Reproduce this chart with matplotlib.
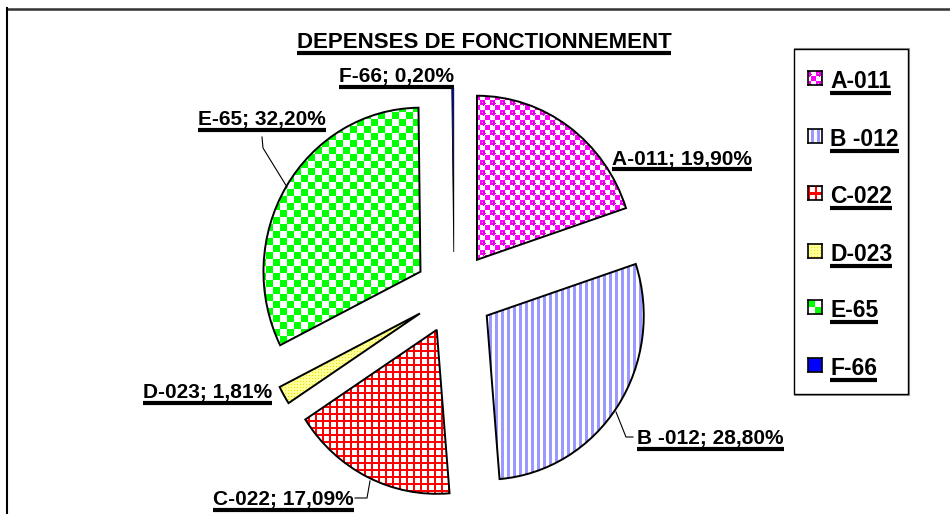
import numpy as np
import matplotlib
matplotlib.use("Agg")
import matplotlib.pyplot as plt
from matplotlib.lines import Line2D
from matplotlib.patches import Rectangle

W, H = 950, 514

title = "DEPENSES DE FONCTIONNEMENT"
categories = ["A-011", "B -012", "C-022", "D-023", "E-65", "F-66"]
values = [19.90, 28.80, 17.09, 1.81, 32.20, 0.20]
pct_labels = ["19,90%", "28,80%", "17,09%", "1,81%", "32,20%", "0,20%"]

# pie centre / radii in pixels (picture is slightly squeezed horizontally)
cx, cy, rx, ry = 454, 293, 157, 164

plt.rcParams['font.family'] = ['Liberation Sans', 'DejaVu Sans']

fig = plt.figure(figsize=(9.5, 5.14), dpi=100)
ax = fig.add_axes([0, 0, 1, 1])


def px(x, y):
    return x / W, 1 - y / H


# texture images in pixel space
yy, xx = np.mgrid[0:H, 0:W]


def rgb(c):
    return np.array(matplotlib.colors.to_rgb(c))


def texture(kind):
    img = np.ones((H, W, 3))
    if kind == "A":
        chk = ((xx // 5) + (yy // 5)) % 2 == 0
        img[:] = rgb("#FF00FF")
        img[~chk] = rgb("#FFFFFF")
        dot = ((xx % 10) - 3) ** 2 + ((yy % 10) - 3) ** 2 < 5
        img[dot] = rgb("#E000E0")
        hl = ((xx % 10) == 2) & ((yy % 10) == 2)
        img[hl] = rgb("#FFB0FF")
    elif kind == "B":
        img[:] = rgb("#9999FF")
        img[(xx % 6) < 3] = rgb("#FFFFFF")
    elif kind == "C":
        img[:] = rgb("#FFFFFF")
        img[((xx % 7) < 2) | ((yy % 7) < 2)] = rgb("#FF0000")
    elif kind == "D":
        img[:] = rgb("#FFFF99")
        img[((xx % 3) == 0) & ((yy % 3) == 0)] = rgb("#E6E600")
    elif kind == "E":
        chk = ((xx // 7) + (yy // 7)) % 2 == 0
        img[:] = rgb("#FFFFFF")
        img[chk] = rgb("#00FF00")
    else:
        img[:] = rgb("#0000FF")
    return img


wedges, _ = ax.pie(values, explode=[0.25] * len(values), startangle=90,
                   counterclock=False, radius=1, center=(0, 0),
                   wedgeprops=dict(facecolor='none', edgecolor='black', linewidth=1.4))
xlim = (-cx / rx, (W - cx) / rx)
ylim = (-(H - cy) / ry, cy / ry)
ax.set_aspect('auto')
ax.set_position([0, 0, 1, 1])
ax.axis('off')
wedges[-1].set_linewidth(0.6)

extent = (xlim[0], xlim[1], ylim[0], ylim[1])
for w, k in zip(wedges, "ABCDEF"):
    im = ax.imshow(texture(k), extent=extent, origin='upper',
                   interpolation='nearest', zorder=0.5, aspect='auto')
    im.set_clip_path(w)
    w.set_zorder(1)
ax.set_xlim(*xlim)
ax.set_ylim(*ylim)

# frame (top and left only visible)
fig.add_artist(Line2D([7 / W, 1], [1 - 8.5 / H] * 2, transform=fig.transFigure,
                      color='#333333', lw=1.8))
fig.add_artist(Line2D([7 / W] * 2, [0, 1 - 8 / H], transform=fig.transFigure,
                      color='black', lw=1.5))

texts = []


def utext(x, y, s, size, ha='left'):
    t = fig.text(*px(x, y), s, fontsize=size, fontweight='bold', ha=ha,
                 va='baseline', color='black', zorder=6)
    texts.append((t, y))
    return t


utext(484, 48, title, 16, ha='center')

label_pos = [(612, 165), (637, 444), (213, 505), (143, 398), (198, 125), (339, 82)]
for cat, p, (lx, ly) in zip(categories, pct_labels, label_pos):
    utext(lx, ly, f"{cat}; {p}", 15)

# leader lines
leaders = [
    [(262, 137), (263, 148), (287, 187)],
    [(633, 437), (626, 437), (616, 412)],
    [(355, 498), (367, 498), (370, 481)],
]
for pts in leaders:
    xs = [px(*p)[0] for p in pts]
    ys = [px(*p)[1] for p in pts]
    fig.add_artist(Line2D(xs, ys, transform=fig.transFigure, color='black', lw=0.8))

# legend
fig.add_artist(Rectangle(px(795, 395), 114 / W, 346 / H, transform=fig.transFigure,
                         facecolor='none', edgecolor='#999999', lw=1.5, zorder=2))
fig.add_artist(Rectangle(px(794, 394), 114 / W, 345 / H, transform=fig.transFigure,
                         facecolor='white', edgecolor='black', lw=1.0, zorder=3))
row_y = [78, 136, 193, 251, 307, 365]
for k, cat, ry_ in zip("ABCDEF", categories, row_y):
    lax = fig.add_axes([808 / W, 1 - (ry_ + 7) / H, 14 / W, 14 / H])
    lax.set_zorder(5)
    tex = texture(k)[0:14, 0:14] if k != "A" else texture(k)[0:14, 2:16]
    lax.imshow(tex, interpolation='nearest', aspect='auto')
    lax.set_xticks([])
    lax.set_yticks([])
    for sp in lax.spines.values():
        sp.set_linewidth(1.2)
    utext(830, ry_ + 10, cat, 16.5)

# underlines
fig.canvas.draw()
r = fig.canvas.get_renderer()
for t, y in texts:
    bb = t.get_window_extent(r)
    uy = y + 4.5
    fig.add_artist(Line2D([bb.x0 / W, bb.x1 / W], [1 - uy / H] * 2,
                          transform=fig.transFigure, color='black', lw=3,
                          solid_capstyle='butt', zorder=6))

fig.savefig("out.png", dpi=100)
